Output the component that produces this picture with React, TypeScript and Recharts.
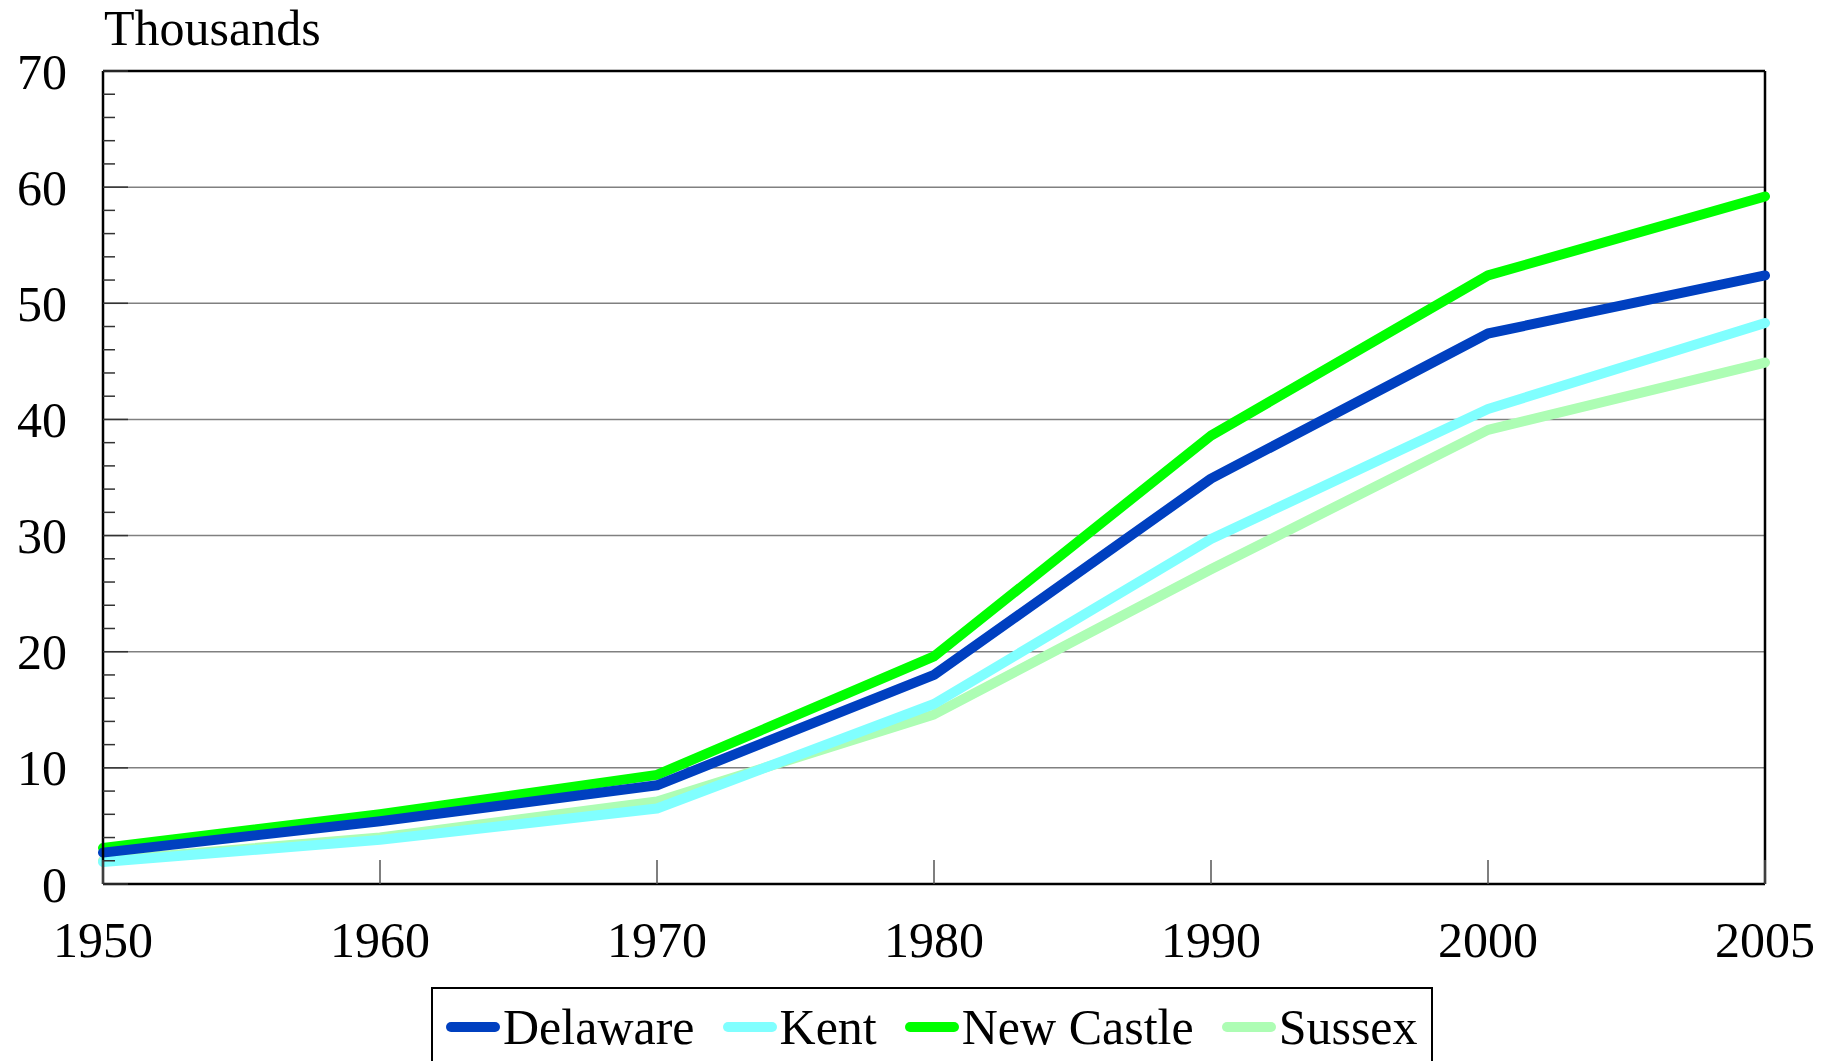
import { LineChart, Line, XAxis, YAxis, CartesianGrid, ReferenceLine, Legend } from 'recharts';

// values in thousands
const years = ['1950', '1960', '1970', '1980', '1990', '2000', '2005'];
const delaware = [2.7, 5.4, 8.5, 18.0, 34.9, 47.4, 52.4];
const kent = [1.9, 3.8, 6.5, 15.5, 29.7, 40.9, 48.3];
const newCastle = [3.1, 6.0, 9.4, 19.6, 38.6, 52.4, 59.2];
const sussex = [2.0, 4.0, 7.1, 14.6, 27.1, 39.1, 44.9];

const yMajorTicks = [0, 10, 20, 30, 40, 50, 60, 70];
const yTicks = [0, 2, 4, 6, 8, 10, 12, 14, 16, 18, 20, 22, 24, 26, 28, 30, 32, 34, 36, 38, 40,
    42, 44, 46, 48, 50, 52, 54, 56, 58, 60, 62, 64, 66, 68, 70];

const SERIES = [
    { key: 'delaware', name: 'Delaware', color: '#0040C0' },
    { key: 'kent', name: 'Kent', color: '#80FFFF' },
    { key: 'newCastle', name: 'New Castle', color: '#00FF00' },
    { key: 'sussex', name: 'Sussex', color: '#ADFDB4' },
];

// draw order: light lines first, blue on top
const DRAW_ORDER = ['sussex', 'kent', 'newCastle', 'delaware'];

const FONT = '"Liberation Serif", "Times New Roman", serif';

const chartData = years.map((year, i) => ({
    year,
    delaware: delaware[i],
    kent: kent[i],
    newCastle: newCastle[i],
    sussex: sussex[i],
}));

const XTick = ({ x, y, payload }: any) => (
    <g>
        <line x1={x} x2={x} y1={y} y2={y - 24} stroke="#555" strokeWidth={1.5} />
        <text x={x} y={y + 73} textAnchor="middle" fontFamily={FONT} fontSize={50} fill="#000">
            {payload.value}
        </text>
    </g>
);

const YTick = ({ x, y, payload }: any) => {
    const major = yMajorTicks.includes(payload.value);
    return (
        <g>
            <line x1={x} x2={x + (major ? 25 : 12)} y1={y} y2={y} stroke="#333" strokeWidth={1.5} />
            {major && (
                <text x={x - 36} y={y} dy="0.35em" textAnchor="end" fontFamily={FONT} fontSize={50} fill="#000">
                    {payload.value}
                </text>
            )}
        </g>
    );
};

const renderLegend = () => (
    <div
        style={{
            border: '2px solid #000',
            height: 80,
            boxSizing: 'border-box',
            display: 'flex',
            alignItems: 'center',
            padding: '0 13px',
            fontFamily: FONT,
            fontSize: 50,
            background: '#fff',
            whiteSpace: 'nowrap',
        }}
    >
        {SERIES.map((s, i) => (
            <div key={s.key} style={{ display: 'flex', alignItems: 'center', marginLeft: i ? 28 : 0 }}>
                <svg width={54} height={14}>
                    <line x1={5} x2={49} y1={7} y2={7} stroke={s.color} strokeWidth={10} strokeLinecap="round" />
                </svg>
                <span style={{ lineHeight: 1, marginLeft: 3 }}>{s.name}</span>
            </div>
        ))}
    </div>
);

export default function App() {
    return (
        <div style={{ position: 'absolute', left: 0, top: 0, width: 1831, height: 1061, overflow: 'hidden', background: '#fff' }}>
            <LineChart width={1831} height={1061} data={chartData} margin={{ top: 71, right: 66, left: 23, bottom: 77 }}>
                <CartesianGrid horizontal vertical={false} horizontalValues={[10, 20, 30, 40, 50, 60]} stroke="#808080" strokeWidth={1.5} />
                <XAxis
                    dataKey="year"
                    type="category"
                    height={100}
                    interval={0}
                    tickSize={0}
                    tickMargin={0}
                    tickLine={false}
                    tick={<XTick />}
                    axisLine={{ stroke: '#000', strokeWidth: 2.5 }}
                />
                <YAxis
                    type="number"
                    domain={[0, 70]}
                    ticks={yTicks}
                    interval={0}
                    width={80}
                    tickSize={0}
                    tickMargin={0}
                    tickLine={false}
                    tick={<YTick />}
                    axisLine={{ stroke: '#000', strokeWidth: 2.5 }}
                    label={(props: any) => {
                        const vb = props.viewBox || {};
                        return (
                            <text x={vb.x + vb.width + 1} y={vb.y - 26} fontFamily={FONT} fontSize={50} fill="#000">
                                Thousands
                            </text>
                        );
                    }}
                />
                <ReferenceLine y={70} stroke="#000" strokeWidth={2.5} />
                <ReferenceLine x="2005" stroke="#000" strokeWidth={2.5} />
                {DRAW_ORDER.map((key) => {
                    const s = SERIES.find((d) => d.key === key)!;
                    return (
                        <Line
                            key={s.key}
                            type="linear"
                            dataKey={s.key}
                            name={s.name}
                            stroke={s.color}
                            strokeWidth={10}
                            strokeLinecap="round"
                            strokeLinejoin="round"
                            dot={false}
                            activeDot={false}
                            isAnimationActive={false}
                        />
                    );
                })}
                <Legend
                    layout="horizontal"
                    verticalAlign="middle"
                    align="center"
                    content={renderLegend}
                    wrapperStyle={{ left: 431, top: 987, width: 'auto', height: 'auto' }}
                />
            </LineChart>
        </div>
    );
}
